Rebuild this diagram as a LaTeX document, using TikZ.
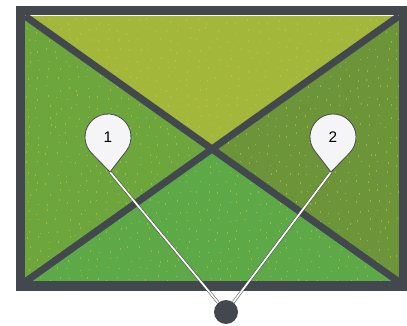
\documentclass[tikz,border=0pt]{standalone}
\usepackage{fontspec}
\setmainfont{Liberation Sans}
\definecolor{frameGray}{HTML}{42484D}
\definecolor{topField}{HTML}{A3B73A}
\definecolor{leftField}{HTML}{6CA63D}
\definecolor{rightField}{HTML}{6B9538}
\definecolor{bottomField}{HTML}{5DA948}
\definecolor{speck}{HTML}{CFC530}
\definecolor{pinFill}{HTML}{F5F4F6}
\definecolor{pinLine}{HTML}{4A4A4A}
\tikzset{
  border/.style={draw=frameGray, line width=6.75pt},
  diag/.style={draw=frameGray, line width=5.25pt},
  pinbody/.style={draw=pinLine, fill=pinFill, line width=0.6pt},
  pinlabel/.style={inner sep=0pt, font=\fontsize{11.5}{13}\selectfont},
  wire/.style={draw=pinLine, line width=0.4pt, double=white, double distance=1.3pt},
  hub/.style={circle, fill=frameGray, minimum size=18pt, inner sep=0pt}
}
\begin{document}
\begin{tikzpicture}[x=0.75pt, y=0.75pt]
    \useasboundingbox (0,0) rectangle (407,325);

    % the four fields
    \fill[topField] (25,309) -- (399,309) -- (212,176) -- cycle;
    \fill[leftField] (25,309) -- (212,176) -- (25,43) -- cycle;
    \fill[rightField] (399,309) -- (212,176) -- (399,43) -- cycle;
    \fill[bottomField] (25,43) -- (212,176) -- (399,43) -- cycle;

    % speckles
    \pgfmathsetseed{7}
    \foreach \i in {0,...,37}
      \foreach \j in {0,...,27}{
        \pgfmathsetmacro{\sx}{28+10*\i+3*rand}
        \pgfmathsetmacro{\sy}{46+9.5*\j+3*rand}
        \fill[speck, opacity=0.6] (\sx,\sy) rectangle ++(1,1.6);
      }

    % frame and diagonals
    \draw[diag] (25,309) -- (399,43);
    \draw[diag] (399,309) -- (25,43);
    \draw[border] (20.5,314.5) rectangle (403,39);

    % markers and hub
    \node[hub] (dot) at (226,13) {};
    \coordinate (t1) at (110,153);
    \coordinate (t2) at (331,153);
    \coordinate (c1) at (108,188);
    \coordinate (c2) at (333,188);
    \draw[wire] (t1) -- (dot);
    \draw[wire] (t2) -- (dot);

    \draw[pinbody] (t1) -- ([shift={(-37.8:23)}]c1)
        arc[start angle=-37.8, end angle=224.4, radius=23] -- cycle;
    \draw[pinbody] (t2) -- ([shift={(-44.4:23)}]c2)
        arc[start angle=-44.4, end angle=217.8, radius=23] -- cycle;
    \node[pinlabel] (p1) at (c1) {1};
    \node[pinlabel] (p2) at (c2) {2};
\end{tikzpicture}
\end{document}
